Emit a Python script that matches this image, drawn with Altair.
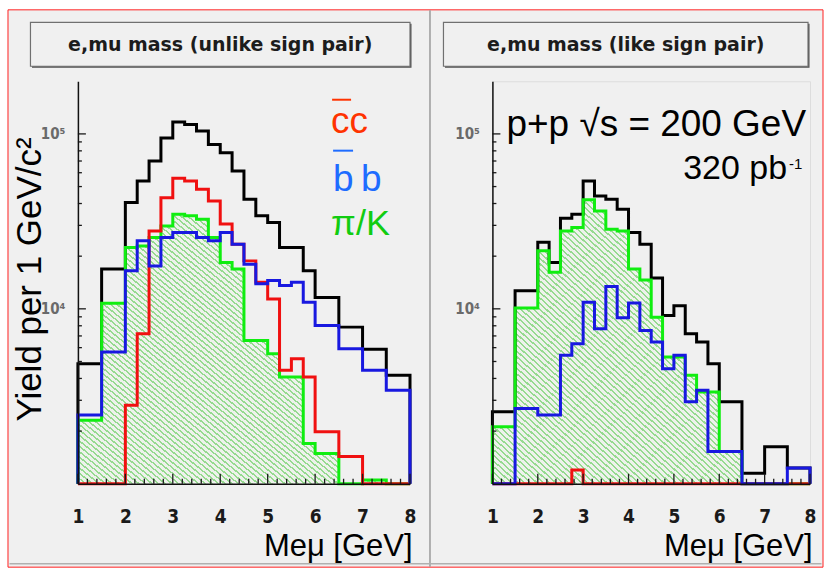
import altair as alt
import pandas as pd

# ---------------------------------------------------------------- data
# lower edges of the 0.25 GeV mass bins (1.00 ... 7.75 GeV)
BIN_LO = [1.00, 1.25, 1.50, 1.75, 2.00, 2.25, 2.50, 2.75, 3.00, 3.25,
          3.50, 3.75, 4.00, 4.25, 4.50, 4.75, 5.00, 5.25, 5.50, 5.75,
          6.00, 6.25, 6.50, 6.75, 7.00, 7.25, 7.50, 7.75]
X_HI = 8.0

# unlike-sign e-mu pairs
unlike_total = [4860, 4860, 16900, 16900, 40500, 53800, 69900, 94900, 117000, 113000,
                104000, 87000, 78000, 61300, 42300, 34000, 31200, 22400, 22400, 16500,
                11600, 11600, 7860, 7860, 5870, 5870, 4170, 4170]
unlike_cc = [0, 0, 0, 0, 2810, 7200, 27900, 43200, 55700, 53800,
             48200, 41400, 30500, 23400, 18800, 14200, 11400, 4450, 5190, 4080,
             1980, 1980, 1430, 1430, 0, 0, 0, 0]
unlike_bb = [2470, 2470, 5660, 5660, 16500, 24500, 17600, 25600, 27300, 27300,
             25600, 24500, 27300, 23400, 18000, 13900, 14500, 13600, 14200, 10900,
             8030, 8030, 5920, 5920, 4450, 4450, 3420, 3420]
unlike_pik = [2310, 2310, 10770, 10770, 22400, 22900, 25600, 29800, 34700, 34000,
              32500, 25600, 18400, 16900, 6600, 6600, 5540, 4080, 4080, 1700,
              1490, 1490, 0, 0, 1050, 1050, 0, 0]

# like-sign e-mu pairs
like_total = [2580, 2580, 12700, 12700, 24000, 18400, 33000, 34700, 53800, 44200,
              42300, 37100, 27300, 23400, 15000, 9160, 10400, 7200, 6460, 4860,
              2940, 2940, 1150, 1150, 1630, 1630, 1230, 1230]
like_cc = [0, 0, 0, 0, 0, 0, 0, 1200, 0, 0,
           0, 0, 0, 0, 0, 0, 0, 0, 0, 0,
           0, 0, 0, 0, 0, 0, 0, 0]
like_bb = [0, 0, 2690, 2690, 2470, 2470, 5420, 6320, 10900, 7690,
           13400, 8880, 10800, 7520, 6460, 4550, 5420, 2940, 3420, 1530,
           1530, 1530, 0, 0, 0, 0, 1230, 1230]
like_pik = [2120, 2120, 10100, 10100, 21500, 16200, 27900, 29200, 42000, 36300,
            28500, 27900, 16900, 14600, 8960, 5300, 5300, 4170, 3350, 3350,
            1530, 1530, 0, 0, 0, 0, 0, 0]

X_LABELS = [1, 2, 3, 4, 5, 6, 7, 8]
Y_LABELS = [10000, 100000]
Y_MINOR = [2000, 3000, 4000, 5000, 6000, 7000, 8000, 9000,
           20000, 30000, 40000, 50000, 60000, 70000, 80000, 90000]
X_TICKS = [round(1 + 0.2 * k, 1) for k in range(36)]

YMIN, YMAX = 1000, 200000

# ---------------------------------------------------------------- style
H = 403
W_L, W_R = 332.5, 318
GAP = 82
BG = "#f0f0f0"
SANS = "Liberation Sans"
BOLD_SANS = "DejaVu Sans"
NARROW = "'Liberation Sans Narrow', 'DejaVu Sans Condensed', 'Liberation Sans', sans-serif"
C_BLACK, C_RED, C_BLUE, C_GREEN = "#000000", "#f01010", "#1818e0", "#10ee10"

XS = alt.Scale(domain=[1, 8], nice=False, zero=False)
YS = alt.Scale(type="log", domain=[YMIN, YMAX], nice=False)

# diagonal hatching of the pi/K histogram, built as a striped gradient
N_STRIPES = 100
_stops = []
for k in range(N_STRIPES):
    a = k / N_STRIPES
    b = (k + 0.36) / N_STRIPES
    c = (k + 1) / N_STRIPES
    _stops += [{"offset": round(a, 5), "color": "#96da90"},
               {"offset": round(b, 5), "color": "#96da90"},
               {"offset": round(b + 1e-5, 5), "color": "#eef2ec"},
               {"offset": round(min(c - 1e-5, 1.0), 5), "color": "#eef2ec"}]
HATCH = {"gradient": "linear", "x1": 0, "y1": 1, "x2": 1, "y2": 0, "stops": _stops}

ONE = pd.DataFrame({"k": [0]})


def steps(values):
    """Histogram outline points: drop from the floor, bin tops, back to the floor."""
    rows = [{"i": 0, "x": BIN_LO[0], "v": 0}]
    for k, (x, v) in enumerate(zip(BIN_LO, values)):
        rows.append({"i": k + 1, "x": x, "v": v})
    rows.append({"i": len(values) + 1, "x": X_HI, "v": values[-1]})
    rows.append({"i": len(values) + 2, "x": X_HI, "v": 0})
    return pd.DataFrame(rows)


def bins(values):
    """Bin tops plus the closing edge, for the filled histogram."""
    rows = [{"x": x, "v": v} for x, v in zip(BIN_LO, values)]
    rows.append({"x": X_HI, "v": values[-1]})
    return pd.DataFrame(rows)


def x_axis(width):
    return alt.Axis(values=X_LABELS, format="d", grid=False, ticks=False,
                    domain=True, domainColor="#111111", domainWidth=1.5,
                    labelFont=NARROW, labelFontSize=19, labelFontWeight="bold",
                    labelColor="#1a1a1a", labelPadding=24, labelFlush=False,
                    labelOverlap=False,
                    title="Meμ [GeV]", titleFont=SANS, titleFontSize=31,
                    titleFontWeight="normal", titleColor="#000000",
                    titleAlign="right", titleBaseline="alphabetic",
                    titleX=width + 2, titleY=72, zindex=1)


def y_axis(with_title):
    opts = dict(values=Y_LABELS, grid=False, ticks=False, domain=True,
                domainColor="#111111", domainWidth=1.5,
                labelExpr="datum.value >= 100000 ? '10⁵' : '10⁴'",
                labelFont=NARROW, labelFontSize=15, labelFontWeight="bold",
                labelColor="#6a6a6a", labelPadding=13, zindex=1)
    if with_title:
        opts.update(title="Yield per 1 GeV/c²", titleFont=SANS, titleFontSize=35,
                    titleFontWeight="normal", titleColor="#000000",
                    titleAngle=270, titleX=-48, titleY=198,
                    titleAlign="center", titleBaseline="middle")
    else:
        opts.update(title=None)
    return alt.Axis(**opts)


def rect(x, y, x2, y2, **style):
    return alt.Chart(ONE).mark_rect(**style).encode(
        x=alt.value(x), x2=alt.value(x2), y=alt.value(y), y2=alt.value(y2))


def rule(x, y, x2, y2, color, width):
    return alt.Chart(ONE).mark_rule(color=color, strokeWidth=width).encode(
        x=alt.value(x), x2=alt.value(x2), y=alt.value(y), y2=alt.value(y2))


def text(x, y, s, size, color, font=SANS, weight="normal", align="left",
         baseline="alphabetic"):
    return alt.Chart(ONE).mark_text(text=s, fontSize=size, color=color, font=font,
                                    fontWeight=weight, align=align,
                                    baseline=baseline).encode(
        x=alt.value(x), y=alt.value(y))


def panel(width, title, title_box, total, cc, bb, pik, with_ytitle, extras, frame=None):
    xa, ya = x_axis(width), y_axis(with_ytitle)
    X = alt.X("x:Q", scale=XS, axis=xa)
    Y = alt.Y("vp:Q", scale=YS, axis=ya)

    def hist(values, color):
        return alt.Chart(steps(values)).transform_calculate(
            vp=f"max(datum.v, {YMIN})"
        ).mark_line(color=color, strokeWidth=3, interpolate="step-after",
                    strokeJoin="miter", strokeCap="butt").encode(
            x=X, y=Y, order="i:Q")

    area = alt.Chart(bins(pik)).transform_calculate(
        vp=f"max(datum.v, {YMIN})"
    ).mark_area(interpolate="step-after", color=HATCH, opacity=1).encode(
        x=X, y=Y, y2=alt.datum(YMIN))

    xt = pd.DataFrame({"t": X_TICKS,
                       "major": [abs(t - round(t)) < 1e-6 for t in X_TICKS]})
    xtick_major = alt.Chart(xt).transform_filter("datum.major").mark_rule(
        color="#1a1a1a", strokeWidth=1.3).encode(
        x=alt.X("t:Q", scale=XS, axis=xa), y=alt.value(H), y2=alt.value(H - 10))
    xtick_minor = alt.Chart(xt).transform_filter("!datum.major").mark_rule(
        color="#1a1a1a", strokeWidth=1.3).encode(
        x=alt.X("t:Q", scale=XS, axis=xa), y=alt.value(H), y2=alt.value(H - 5))
    ytick_major = alt.Chart(pd.DataFrame({"vp": Y_LABELS})).mark_rule(
        color="#1a1a1a", strokeWidth=1.3).encode(
        y=Y, x=alt.value(0), x2=alt.value(8))
    ytick_minor = alt.Chart(pd.DataFrame({"vp": Y_MINOR})).mark_rule(
        color="#1a1a1a", strokeWidth=1.3).encode(
        y=Y, x=alt.value(0), x2=alt.value(4))

    bx0, by0, bx1, by1 = title_box
    head = [
        rect(bx0 + 1.5, by0 + 1.5, bx1 + 1.5, by1 + 1.5, fill="#505050"),
        rect(bx0, by0, bx1, by1, fill=BG, stroke="#707070", strokeWidth=1.2),
        text((bx0 + bx1) / 2, (by0 + by1) / 2 + 1, title, 19, "#1c1c1c",
             font=BOLD_SANS, weight="bold", align="center", baseline="middle"),
    ]
    layers = (frame or []) + head + [
        area,
        hist(total, C_BLACK), hist(pik, C_GREEN), hist(cc, C_RED), hist(bb, C_BLUE),
        xtick_major, xtick_minor, ytick_major, ytick_minor,
    ] + extras
    return alt.layer(*layers).properties(width=width, height=H)


# canvas: white margin, red outer border, grey pads (coordinates relative to left plot)
OX, OY = 77.5, 80
canvas = [
    rect(-OX, -OY, 825 - OX, 568 - OY, fill="#ffffff", strokeWidth=0),
    rect(7.5 - OX, 8.5 - OY, 823.5 - OX, 566.5 - OY, fill=BG, stroke="#ff2020",
         strokeWidth=1),
    rule(430 - OX, 9 - OY, 430 - OX, 566 - OY, "#9a9a9a", 1.5),
    rule(9 - OX, 563 - OY, 822 - OX, 563 - OY, "#b0b0b0", 1.5),
]

legend = [
    text(253.5, 52, "cc", 37, "#ff3300"),
    rule(254.5, 18.5, 273.5, 18.5, "#ff3300", 2),
    text(255.5, 110, "b\u2009b", 37, "#1e6cff"),
    rule(255.5, 69.5, 275.5, 69.5, "#1e6cff", 2),
    text(253.5, 154, "π/K", 36, "#11cc11"),
]

beam = [
    text(314, 55, "p+p √s = 200 GeV", 37, "#000000", align="right"),
    text(295, 98, "320 pb", 34, "#000000", align="right"),
    text(297, 88, "-1", 15, "#000000"),
]

left = panel(W_L, "e,mu mass (unlike sign pair)", (-47.5, -59, 332.5, -15),
             unlike_total, unlike_cc, unlike_bb, unlike_pik, True, legend,
             frame=canvas)
right = panel(W_R, "e,mu mass (like sign pair)", (-49, -59, 316, -15),
              like_total, like_cc, like_bb, like_pik, False, beam)

chart = alt.hconcat(left, right, spacing=GAP, bounds="flush", padding=0).configure_view(
    stroke="#6a6a6a", strokeWidth=1.2
).configure(background="#ffffff")

chart.save("out.html", embed_options={"renderer": "svg", "actions": False})
